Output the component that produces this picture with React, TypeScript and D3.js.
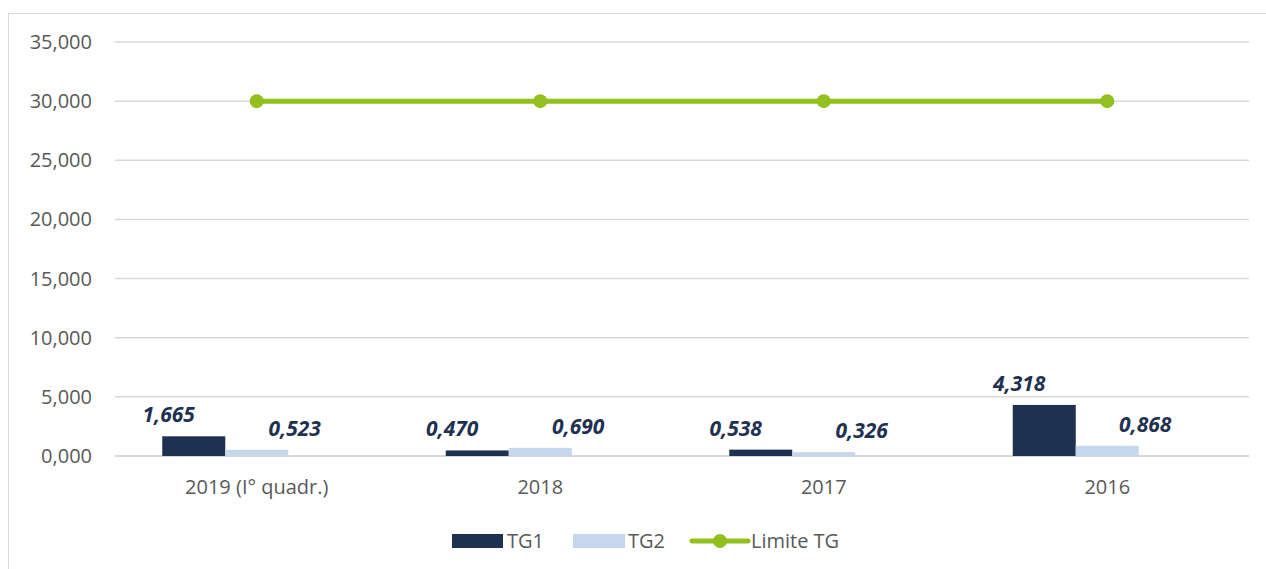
import React from 'react';
import * as d3 from 'd3';

const categories = ['2019 (I° quadr.)', '2018', '2017', '2016'];
const tg1 = [1.665, 0.47, 0.538, 4.318];
const tg2 = [0.523, 0.69, 0.326, 0.868];
const limiteTG = [30, 30, 30, 30];
const yTicks = [0, 5, 10, 15, 20, 25, 30, 35];
const seriesNames = ['TG1', 'TG2', 'empty'];

const W = 1266;
const H = 569;
const margin = { top: 42, right: 17, bottom: 113, left: 115 };
const font = '"Open Sans", sans-serif';
const navy = '#1f3151';
const light = '#c6d6ed';
const green = '#92c01f';
const grid = '#d9d9d9';
const textGray = '#595959';

const itLocale = d3.formatLocale({ decimal: ',', thousands: '.', grouping: [3], currency: ['', '€'] });
const fmt = itLocale.format('.3f');

export default function App() {
  const x0 = d3.scaleBand<string>()
    .domain(categories)
    .range([margin.left, W - margin.right])
    .paddingInner(1 / 3)
    .paddingOuter(1 / 6);
  const x1 = d3.scaleBand<string>().domain(seriesNames).range([0, x0.bandwidth()]);
  const y = d3.scaleLinear().domain([0, 35]).range([H - margin.bottom, margin.top]);

  const centre = (c: string) => (x0(c) as number) + x0.bandwidth() / 2;
  const line = d3.line<number>()
    .x((_, i) => centre(categories[i]))
    .y((d) => y(d));

  const bars = [
    { name: 'TG1', values: tg1, color: navy, dx: -25 },
    { name: 'TG2', values: tg2, color: light, dx: 38 },
  ];

  return (
    <svg width={W} height={H} style={{ position: 'absolute', left: 0, top: 0 }} fontFamily={font}>
      <rect x={8.5} y={13.5} width={1270} height={600} fill="#fff" stroke={grid} />
      {yTicks.map((t) => (
        <g key={t}>
          <line x1={margin.left} x2={W - margin.right} y1={y(t)} y2={y(t)} stroke={grid} strokeWidth={t === 0 ? 2 : 1.5} />
          <text x={92} y={y(t)} dy="0.35em" textAnchor="end" fontSize={20} fill={textGray}>{fmt(t)}</text>
        </g>
      ))}
      {bars.map((s) => (
        <g key={s.name}>
          {categories.map((c, i) => {
            const bx = (x0(c) as number) + (x1(s.name) as number);
            const top = y(s.values[i]);
            return (
              <g key={c}>
                <rect x={bx} y={top} width={x1.bandwidth()} height={y(0) - top} fill={s.color} />
                <text x={bx + x1.bandwidth() / 2 + s.dx} y={top - 14} textAnchor="middle"
                  fontSize={21} fontWeight="bold" fontStyle="italic" fill={navy}>{fmt(s.values[i])}</text>
              </g>
            );
          })}
        </g>
      ))}
      <path d={line(limiteTG) as string} fill="none" stroke={green} strokeWidth={5} />
      {limiteTG.map((v, i) => (
        <circle key={i} cx={centre(categories[i])} cy={y(v)} r={7} fill={green} />
      ))}
      {categories.map((c) => (
        <text key={c} x={centre(c)} y={494} textAnchor="middle" fontSize={20} fill={textGray}>{c}</text>
      ))}
      <g fontSize={20} fill={textGray}>
        <rect x={452} y={534} width={51} height={14} fill={navy} />
        <text x={507} y={541} dy="0.35em">TG1</text>
        <rect x={573} y={534} width={52} height={14} fill={light} />
        <text x={628} y={541} dy="0.35em">TG2</text>
        <line x1={692} x2={748} y1={541} y2={541} stroke={green} strokeWidth={5} strokeLinecap="round" />
        <circle cx={720} cy={541} r={7} fill={green} />
        <text x={751} y={541} dy="0.35em">Limite TG</text>
      </g>
    </svg>
  );
}
